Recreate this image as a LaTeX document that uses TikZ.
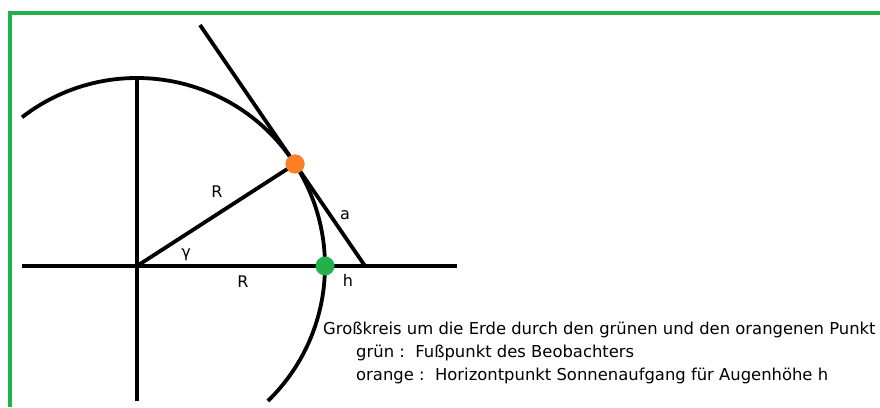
\documentclass[tikz,border=0pt]{standalone}
\usepackage{fontspec}
\setmainfont{DejaVu Sans}
\definecolor{paintgreen}{HTML}{22B14C}
\definecolor{paintorange}{HTML}{FF7F27}
\begin{document}
\begin{tikzpicture}[x=1pt, y=1pt,
    line/.style={line width=3.8pt, black},
    dot/.style={circle, inner sep=0pt, minimum size=19pt},
    lbl/.style={font=\fontsize{16}{19}\selectfont},
    txt/.style={anchor=west, inner sep=0pt, font=\fontsize{16.4}{19}\selectfont}]
    \useasboundingbox (0,0) rectangle (880,407);

    % Frame
    \draw[paintgreen, line width=4pt] (10,0) -- (10,394) -- (880,394);

    % Points
    \coordinate (O) at (137,141);
    \coordinate (HL) at (22,141);
    \coordinate (HR) at (457,141);
    \coordinate (VT) at (137,329);
    \coordinate (VB) at (137,6);
    \coordinate (T) at (200,382);
    \coordinate (E) at (365,141);

    % Axes
    \draw[line] (HL) -- (HR);
    \draw[line] (VT) -- (VB);

    % Great circle
    \draw[line] (O) ++(127.7:188) arc[start angle=127.7, end angle=-45.9, radius=188];

    % Radius and tangent
    \node[dot, fill=paintorange] (P) at (295,243) {};
    \node[dot, fill=paintgreen] (G) at (325,141) {};
    \draw[line] (O) -- (P.center);
    \draw[line] (T) -- (E);
    \fill[paintorange] (P) circle (9.5pt);

    % Labels
    \node[lbl] (lR1) at (217,215) {R};
    \node[lbl] (lg) at (186,152) {γ};
    \node[lbl] (lR2) at (243,125) {R};
    \node[lbl] (la) at (345,192) {a};
    \node[lbl] (lh) at (348,127) {h};

    % Legend
    \node[txt] (t1) at (323,77) {Großkreis um die Erde durch den grünen und den orangenen Punkt};
    \node[txt] (t2) at (356,54) {grün :\ \ Fußpunkt des Beobachters};
    \node[txt] (t3) at (356,31) {orange :\ \ Horizontpunkt Sonnenaufgang für Augenhöhe h};
\end{tikzpicture}
\end{document}
